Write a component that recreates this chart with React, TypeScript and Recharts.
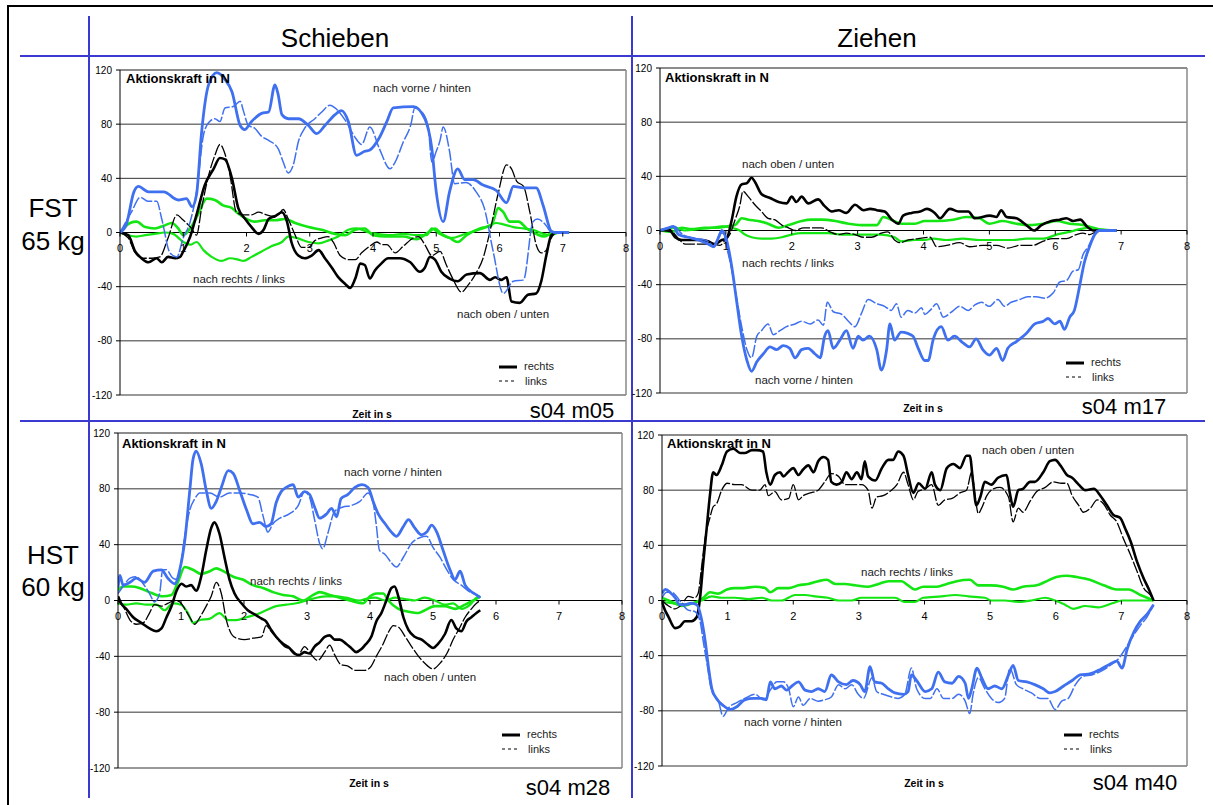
import { LineChart, Line, XAxis, YAxis, CartesianGrid, ReferenceLine } from 'recharts';

type Pt = [number, number];

const timeTicks = [0, 1, 2, 3, 4, 5, 6, 7, 8];
const forceTicks = [-120, -80, -40, 0, 40, 80, 120];

// FST 65 kg, Schieben (s04 m05)
const fstPushVorR: Pt[] = [[0,0],[0.1,6],[0.22,30],[0.29,34],[0.45,30],[0.69,30],[0.92,24],[1.05,25],[1.14,19],[1.21,28],[1.29,74],[1.4,109],[1.53,118],[1.66,113],[1.77,104],[1.9,79],[1.97,76],[2.08,82],[2.24,88],[2.35,89],[2.45,109],[2.5,102],[2.56,87],[2.66,84],[2.82,84],[2.98,79],[3.11,73],[3.24,79],[3.4,87],[3.5,90],[3.61,82],[3.74,57],[3.87,60],[3.95,61],[4.1,70],[4.22,82],[4.32,92],[4.64,93],[4.82,84],[4.93,62],[5.0,30],[5.11,8],[5.21,30],[5.34,47],[5.45,39],[5.58,39],[5.74,35],[5.95,31],[6.11,22],[6.22,34],[6.38,33],[6.58,33],[6.69,20],[6.82,1],[6.9,0],[7.1,0]];
const fstPushVorL: Pt[] = [[0,0],[0.18,15],[0.32,26],[0.45,23],[0.58,23],[0.66,10],[0.79,-15],[0.9,-18],[1.0,-4],[1.11,8],[1.21,30],[1.32,72],[1.4,81],[1.5,84],[1.58,82],[1.66,92],[1.79,93],[1.9,97],[1.95,90],[2.03,79],[2.13,77],[2.24,71],[2.35,68],[2.5,62],[2.58,52],[2.66,44],[2.74,50],[2.82,67],[2.92,77],[3.08,84],[3.19,89],[3.32,94],[3.4,92],[3.56,83],[3.72,70],[3.82,65],[3.95,78],[4.1,62],[4.27,47],[4.35,52],[4.48,67],[4.6,80],[4.66,92],[4.75,90],[4.87,79],[4.93,52],[5.0,60],[5.06,68],[5.11,78],[5.21,60],[5.29,36],[5.47,37],[5.63,30],[5.76,18],[5.9,-14],[6.06,-45],[6.22,-36],[6.38,-35],[6.53,8],[6.6,10],[6.74,5],[6.82,0],[7.1,0]];
const fstPushObenR: Pt[] = [[0,0],[0.13,-2],[0.24,-14],[0.34,-19],[0.45,-22],[0.58,-19],[0.66,-22],[0.76,-18],[0.87,-19],[0.95,-18],[1.0,-14],[1.11,-3],[1.21,13],[1.34,35],[1.48,47],[1.58,55],[1.66,54],[1.77,40],[1.87,18],[1.98,10],[2.08,4],[2.19,-1],[2.27,2],[2.35,10],[2.45,12],[2.56,15],[2.64,8],[2.71,-7],[2.82,-17],[2.92,-19],[3.03,-17],[3.14,-13],[3.24,-19],[3.35,-26],[3.45,-33],[3.56,-38],[3.64,-41],[3.72,-34],[3.8,-23],[3.87,-24],[3.95,-34],[4.03,-28],[4.13,-23],[4.24,-19],[4.42,-19],[4.59,-22],[4.74,-29],[4.82,-26],[4.9,-18],[4.98,-20],[5.08,-29],[5.21,-34],[5.34,-36],[5.48,-31],[5.69,-30],[5.85,-35],[5.93,-33],[6.03,-35],[6.11,-33],[6.19,-51],[6.32,-52],[6.45,-46],[6.58,-45],[6.66,-36],[6.74,-17],[6.82,-2],[6.9,0],[7.1,0]];
const fstPushObenL: Pt[] = [[0,0],[0.13,-4],[0.24,-15],[0.37,-19],[0.5,-19],[0.63,-18],[0.76,-4],[0.9,13],[0.98,10],[1.05,7],[1.13,3],[1.21,-2],[1.29,18],[1.4,42],[1.5,57],[1.58,65],[1.66,58],[1.74,42],[1.84,15],[1.95,13],[2.08,13],[2.19,15],[2.32,13],[2.42,12],[2.5,13],[2.58,17],[2.66,10],[2.77,-2],[2.87,-11],[2.98,-11],[3.08,-6],[3.19,-4],[3.29,-3],[3.37,-7],[3.48,-17],[3.61,-20],[3.72,-20],[3.82,-15],[3.95,-10],[4.06,-7],[4.14,-9],[4.22,-9],[4.35,-15],[4.48,-10],[4.64,-4],[4.72,-3],[4.82,-9],[4.93,-17],[5.06,-14],[5.16,-24],[5.26,-34],[5.4,-44],[5.5,-39],[5.63,-30],[5.74,-19],[5.85,1],[5.98,29],[6.11,50],[6.19,47],[6.27,38],[6.38,34],[6.48,15],[6.58,-9],[6.66,-15],[6.74,-13],[6.82,-4],[6.9,0],[7.1,0]];
const fstPushRechtsR: Pt[] = [[0,0],[0.16,7],[0.26,8],[0.4,4],[0.55,3],[0.69,5],[0.82,7],[0.92,3],[1.0,-2],[1.11,3],[1.24,14],[1.37,25],[1.5,24],[1.63,20],[1.77,18],[1.87,14],[2.0,10],[2.13,8],[2.29,9],[2.45,9],[2.61,10],[2.77,7],[2.98,4],[3.19,2],[3.4,-1],[3.56,-2],[3.72,2],[3.87,3],[4.0,-2],[4.2,-3],[4.48,-3],[4.69,-5],[4.87,0],[4.98,3],[5.08,-1],[5.21,-4],[5.34,-7],[5.48,-2],[5.69,3],[5.87,5],[5.98,18],[6.06,15],[6.16,8],[6.3,8],[6.43,3],[6.58,-1],[6.71,-3],[6.85,0],[7.1,0]];
const fstPushRechtsL: Pt[] = [[0,0],[0.13,-2],[0.26,-3],[0.4,-2],[0.55,-1],[0.71,0],[0.84,-1],[1.0,-7],[1.11,-9],[1.21,-7],[1.32,-13],[1.45,-18],[1.61,-21],[1.74,-19],[1.87,-20],[1.95,-21],[2.08,-18],[2.24,-14],[2.4,-10],[2.56,-7],[2.66,-3],[2.79,-4],[2.98,-7],[3.14,-8],[3.29,-6],[3.45,-3],[3.61,2],[3.74,3],[3.93,0],[4.06,-1],[4.27,-2],[4.48,-1],[4.69,-2],[4.85,-2],[4.93,3],[5.05,-1],[5.26,-4],[5.4,-2],[5.53,0],[5.74,3],[5.95,7],[6.06,6],[6.22,4],[6.38,3],[6.53,2],[6.69,-1],[6.82,-2],[6.95,0],[7.1,0]];

// FST 65 kg, Ziehen (s04 m17)
const fstPullObenR: Pt[] = [[0,0],[0.13,1],[0.23,-5],[0.33,-7],[0.48,-7],[0.63,-7],[0.73,-8],[0.83,-10],[0.94,-7],[1.01,-6],[1.09,8],[1.16,25],[1.24,34],[1.32,35],[1.39,39],[1.44,36],[1.54,27],[1.67,24],[1.8,21],[1.92,20],[2.0,25],[2.07,21],[2.15,25],[2.25,20],[2.4,23],[2.5,18],[2.61,14],[2.71,15],[2.83,13],[2.96,19],[3.09,15],[3.19,16],[3.29,15],[3.41,14],[3.52,8],[3.62,5],[3.69,11],[3.82,13],[3.95,14],[4.05,16],[4.17,13],[4.25,9],[4.4,16],[4.53,14],[4.68,14],[4.78,9],[5.01,11],[5.11,10],[5.18,15],[5.26,10],[5.41,9],[5.56,4],[5.68,0],[5.79,4],[5.94,7],[6.07,8],[6.17,9],[6.27,7],[6.38,8],[6.48,3],[6.58,0],[6.93,0]];
const fstPullObenL: Pt[] = [[0,0],[0.18,-1],[0.28,-6],[0.38,-10],[0.51,-10],[0.63,-10],[0.78,-10],[0.91,-11],[0.99,-7],[1.06,-3],[1.14,8],[1.21,18],[1.26,29],[1.34,25],[1.44,19],[1.54,14],[1.64,9],[1.74,8],[1.85,4],[1.95,2],[2.05,0],[2.18,2],[2.3,2],[2.45,2],[2.58,-1],[2.71,-3],[2.83,-2],[2.96,-3],[3.09,-5],[3.21,-5],[3.36,-2],[3.46,-1],[3.56,-7],[3.64,-9],[3.77,-7],[3.92,-6],[4.1,-5],[4.2,-12],[4.35,-11],[4.55,-9],[4.7,-12],[4.9,-11],[5.11,-11],[5.28,-13],[5.46,-11],[5.66,-11],[5.81,-8],[5.96,-6],[6.17,-6],[6.32,-3],[6.42,-2],[6.52,-3],[6.62,-1],[6.93,0]];
const fstPullVorR: Pt[] = [[0,0],[0.13,2],[0.2,3],[0.28,-3],[0.43,-5],[0.58,-7],[0.73,-10],[0.81,-12],[0.89,-5],[0.94,0],[1.01,-7],[1.09,-27],[1.16,-51],[1.24,-78],[1.32,-96],[1.39,-104],[1.47,-97],[1.57,-91],[1.67,-86],[1.77,-88],[1.87,-85],[1.97,-87],[2.05,-94],[2.15,-88],[2.25,-87],[2.35,-91],[2.43,-94],[2.5,-78],[2.55,-74],[2.63,-87],[2.73,-81],[2.83,-74],[2.93,-87],[3.01,-78],[3.08,-81],[3.18,-78],[3.29,-88],[3.36,-103],[3.44,-88],[3.49,-69],[3.56,-81],[3.66,-75],[3.76,-76],[3.84,-78],[3.92,-87],[4.02,-96],[4.07,-96],[4.15,-80],[4.27,-71],[4.37,-81],[4.47,-78],[4.6,-83],[4.7,-86],[4.8,-80],[4.9,-88],[5.0,-92],[5.11,-87],[5.2,-96],[5.28,-87],[5.41,-82],[5.56,-76],[5.69,-69],[5.82,-67],[5.89,-65],[5.99,-69],[6.07,-67],[6.14,-73],[6.22,-64],[6.29,-59],[6.37,-41],[6.44,-24],[6.52,-12],[6.6,-3],[6.67,0],[6.93,0]];
const fstPullVorL: Pt[] = [[0,0],[0.15,2],[0.23,3],[0.3,-1],[0.43,-5],[0.58,-6],[0.73,-8],[0.83,-12],[0.91,-2],[0.96,-2],[1.01,-12],[1.09,-29],[1.16,-49],[1.24,-71],[1.32,-88],[1.39,-94],[1.47,-78],[1.54,-74],[1.64,-69],[1.72,-77],[1.82,-74],[1.92,-71],[2.05,-69],[2.15,-67],[2.28,-69],[2.4,-66],[2.48,-70],[2.54,-53],[2.63,-60],[2.76,-62],[2.86,-67],[2.96,-71],[3.06,-61],[3.16,-51],[3.29,-54],[3.41,-56],[3.51,-59],[3.59,-54],[3.66,-64],[3.76,-59],[3.87,-61],[3.97,-57],[4.02,-62],[4.1,-59],[4.2,-54],[4.3,-64],[4.43,-60],[4.55,-56],[4.68,-59],[4.78,-55],[4.88,-53],[5.0,-56],[5.13,-51],[5.23,-56],[5.33,-53],[5.46,-51],[5.58,-49],[5.71,-49],[5.84,-50],[5.97,-46],[6.07,-38],[6.17,-37],[6.27,-30],[6.35,-29],[6.42,-18],[6.5,-12],[6.57,-5],[6.65,0],[6.93,0]];
const fstPullRechtsR: Pt[] = [[0,0],[0.18,-1],[0.33,2],[0.48,1],[0.68,2],[0.83,2],[1.01,3],[1.14,4],[1.24,9],[1.34,8],[1.49,7],[1.64,5],[1.8,2],[1.95,4],[2.15,7],[2.3,8],[2.45,8],[2.66,7],[2.86,5],[3.06,4],[3.29,4],[3.39,10],[3.51,8],[3.66,5],[3.87,5],[4.02,7],[4.2,7],[4.45,8],[4.65,10],[4.85,9],[5.0,5],[5.2,7],[5.41,5],[5.61,4],[5.82,5],[6.02,7],[6.22,5],[6.42,4],[6.58,2],[6.73,0],[6.93,0]];
const fstPullRechtsL: Pt[] = [[0,0],[0.23,2],[0.38,0],[0.58,1],[0.78,2],[0.94,3],[1.09,2],[1.21,0],[1.29,-3],[1.39,-5],[1.54,-6],[1.69,-6],[1.85,-5],[2.0,-3],[2.15,-2],[2.35,-2],[2.55,-2],[2.76,-3],[2.96,-3],[3.16,-3],[3.36,-3],[3.56,-5],[3.66,-8],[3.87,-7],[4.02,-7],[4.15,-6],[4.35,-7],[4.6,-6],[4.85,-7],[5.1,-7],[5.36,-7],[5.56,-6],[5.82,-6],[6.02,-3],[6.22,-1],[6.37,1],[6.52,2],[6.67,1],[6.93,0]];

// HST 60 kg, Schieben (s04 m28)
const hstPushVorR: Pt[] = [[0,9],[0.03,18],[0.08,11],[0.19,13],[0.29,16],[0.42,13],[0.56,21],[0.69,22],[0.79,16],[0.9,12],[0.98,22],[1.06,43],[1.14,79],[1.19,101],[1.24,107],[1.32,98],[1.4,79],[1.48,66],[1.56,71],[1.64,81],[1.75,93],[1.83,91],[1.93,79],[2.04,65],[2.14,55],[2.25,56],[2.35,53],[2.43,55],[2.51,70],[2.59,78],[2.67,81],[2.78,83],[2.86,74],[2.96,78],[3.04,76],[3.12,67],[3.2,59],[3.31,62],[3.39,66],[3.47,60],[3.54,73],[3.65,76],[3.76,81],[3.87,83],[3.97,81],[4.05,71],[4.13,62],[4.24,55],[4.34,49],[4.42,46],[4.53,53],[4.61,58],[4.71,52],[4.82,47],[4.9,49],[4.98,54],[5.06,49],[5.16,36],[5.27,22],[5.35,15],[5.43,21],[5.51,11],[5.59,7],[5.69,4],[5.75,2]];
const hstPushVorL: Pt[] = [[0,5],[0.08,10],[0.19,16],[0.29,17],[0.4,12],[0.5,5],[0.58,-1],[0.66,5],[0.71,22],[0.77,22],[0.87,16],[0.95,15],[1.0,27],[1.06,46],[1.14,65],[1.22,73],[1.3,77],[1.46,77],[1.61,74],[1.77,77],[1.93,77],[2.09,76],[2.22,74],[2.3,61],[2.38,49],[2.46,55],[2.57,59],[2.72,62],[2.86,68],[2.96,78],[3.04,74],[3.12,58],[3.2,41],[3.25,37],[3.33,48],[3.44,64],[3.57,67],[3.7,68],[3.84,71],[3.97,77],[4.05,70],[4.1,54],[4.15,36],[4.24,33],[4.34,27],[4.42,24],[4.53,31],[4.66,41],[4.79,45],[4.9,46],[5.0,38],[5.11,31],[5.22,22],[5.32,15],[5.45,11],[5.59,6],[5.69,4],[5.75,2]];
const hstPushObenR: Pt[] = [[0,3],[0.05,-2],[0.13,-6],[0.24,-12],[0.37,-16],[0.5,-20],[0.61,-22],[0.69,-20],[0.77,-12],[0.85,-4],[0.93,7],[1.01,12],[1.08,10],[1.16,11],[1.24,7],[1.32,17],[1.4,36],[1.48,52],[1.53,56],[1.61,48],[1.69,31],[1.77,15],[1.85,5],[1.96,-2],[2.06,-7],[2.17,-10],[2.28,-13],[2.35,-15],[2.43,-21],[2.51,-26],[2.62,-31],[2.72,-34],[2.8,-38],[2.88,-39],[2.96,-37],[3.04,-38],[3.12,-33],[3.2,-30],[3.28,-26],[3.36,-25],[3.44,-28],[3.52,-28],[3.62,-31],[3.7,-34],[3.78,-37],[3.86,-35],[3.92,-32],[4.02,-26],[4.1,-15],[4.18,-9],[4.26,0],[4.34,9],[4.39,10],[4.45,3],[4.53,-12],[4.61,-21],[4.71,-26],[4.82,-28],[4.93,-32],[5.0,-34],[5.08,-31],[5.19,-24],[5.29,-14],[5.37,-20],[5.45,-22],[5.53,-15],[5.61,-12],[5.69,-9],[5.75,-7]];
const hstPushObenL: Pt[] = [[0,0],[0.08,-4],[0.19,-14],[0.29,-17],[0.4,-16],[0.5,-9],[0.58,-3],[0.69,-4],[0.79,-2],[0.9,0],[0.98,-1],[1.06,-6],[1.14,-12],[1.22,-17],[1.3,-12],[1.4,-4],[1.48,3],[1.56,13],[1.64,5],[1.72,-14],[1.8,-24],[1.88,-27],[2.01,-28],[2.14,-27],[2.28,-26],[2.35,-18],[2.43,-22],[2.54,-28],[2.64,-33],[2.75,-35],[2.86,-39],[2.96,-33],[3.07,-39],[3.17,-43],[3.28,-37],[3.36,-32],[3.44,-39],[3.54,-46],[3.65,-47],[3.76,-50],[3.92,-50],[4.02,-47],[4.1,-40],[4.21,-31],[4.29,-23],[4.37,-18],[4.45,-19],[4.56,-26],[4.66,-33],[4.77,-40],[4.87,-45],[5.0,-49],[5.11,-45],[5.22,-38],[5.32,-28],[5.43,-19],[5.51,-12],[5.61,-6],[5.69,-2],[5.75,0]];
const hstPushRechtsR: Pt[] = [[0,7],[0.08,10],[0.21,10],[0.34,9],[0.5,6],[0.61,4],[0.71,3],[0.85,4],[0.95,13],[1.06,24],[1.19,22],[1.32,19],[1.46,21],[1.56,23],[1.67,21],[1.83,17],[1.98,15],[2.14,11],[2.3,9],[2.46,6],[2.62,4],[2.78,3],[2.94,0],[3.1,4],[3.2,6],[3.36,4],[3.52,2],[3.68,0],[3.89,-2],[4.0,3],[4.1,5],[4.21,5],[4.29,0],[4.45,-6],[4.61,-8],[4.77,-9],[4.87,-7],[5.03,-4],[5.19,-4],[5.35,-6],[5.51,-3],[5.64,0],[5.75,3]];
const hstPushRechtsL: Pt[] = [[0,-2],[0.13,-3],[0.29,-2],[0.45,-3],[0.61,-3],[0.74,-7],[0.87,-2],[1.0,-3],[1.11,-9],[1.19,-16],[1.3,-14],[1.46,-13],[1.61,-9],[1.75,-14],[1.88,-14],[2.04,-12],[2.2,-10],[2.35,-7],[2.51,-4],[2.67,-3],[2.83,-2],[2.99,0],[3.15,2],[3.31,3],[3.47,3],[3.62,2],[3.84,0],[3.92,1],[4.08,2],[4.24,0],[4.4,2],[4.56,1],[4.71,0],[4.87,2],[5.03,0],[5.19,-3],[5.32,-2],[5.45,-6],[5.59,-3],[5.69,2],[5.75,3]];

// HST 60 kg, Ziehen (s04 m40)
const hstPullObenR: Pt[] = [[0,-1],[0.02,-4],[0.1,-12],[0.2,-20],[0.27,-19],[0.35,-15],[0.45,-15],[0.53,-12],[0.58,2],[0.63,28],[0.68,52],[0.73,76],[0.78,93],[0.83,91],[0.91,98],[0.99,108],[1.09,110],[1.19,107],[1.26,107],[1.37,109],[1.44,109],[1.54,108],[1.59,93],[1.65,84],[1.72,91],[1.8,93],[1.85,90],[1.92,93],[2.0,96],[2.08,91],[2.15,95],[2.23,98],[2.31,93],[2.38,101],[2.46,104],[2.53,102],[2.58,86],[2.66,84],[2.74,86],[2.81,93],[2.89,88],[2.97,93],[3.04,88],[3.09,101],[3.14,90],[3.25,87],[3.35,96],[3.45,102],[3.52,102],[3.6,108],[3.68,105],[3.75,91],[3.83,78],[3.91,85],[4.01,81],[4.11,93],[4.16,84],[4.24,80],[4.34,96],[4.44,99],[4.54,96],[4.64,105],[4.69,105],[4.74,86],[4.79,69],[4.85,75],[4.92,86],[5.02,84],[5.12,89],[5.25,91],[5.3,78],[5.35,68],[5.43,80],[5.5,81],[5.61,86],[5.68,86],[5.81,93],[5.91,101],[5.99,102],[6.07,98],[6.17,91],[6.25,89],[6.35,84],[6.45,80],[6.58,81],[6.68,76],[6.78,69],[6.88,62],[6.98,60],[7.06,52],[7.14,43],[7.24,28],[7.34,16],[7.42,8],[7.49,0]];
const hstPullObenL: Pt[] = [[0,0],[0.1,-4],[0.2,-6],[0.3,-3],[0.4,3],[0.5,2],[0.55,5],[0.6,23],[0.65,43],[0.73,60],[0.78,68],[0.83,70],[0.91,80],[0.99,85],[1.11,84],[1.21,84],[1.37,80],[1.49,80],[1.57,84],[1.62,76],[1.72,79],[1.82,73],[1.93,74],[2.0,84],[2.08,73],[2.15,76],[2.26,78],[2.38,80],[2.48,86],[2.58,92],[2.69,90],[2.79,84],[2.92,84],[3.04,84],[3.14,80],[3.2,67],[3.27,75],[3.37,76],[3.47,79],[3.58,84],[3.68,93],[3.75,84],[3.83,73],[3.9,79],[4.01,81],[4.11,84],[4.21,69],[4.31,73],[4.42,74],[4.54,78],[4.64,80],[4.72,93],[4.77,76],[4.82,63],[4.87,67],[4.95,76],[5.05,81],[5.15,82],[5.28,75],[5.35,57],[5.43,67],[5.5,64],[5.61,72],[5.71,79],[5.84,82],[5.96,86],[6.09,85],[6.17,85],[6.25,76],[6.35,69],[6.42,64],[6.53,67],[6.63,73],[6.73,70],[6.83,62],[6.93,57],[7.03,45],[7.14,33],[7.24,21],[7.34,9],[7.44,4],[7.49,0]];
const hstPullVorR: Pt[] = [[0,5],[0.05,8],[0.12,6],[0.2,2],[0.27,-3],[0.35,-3],[0.45,-2],[0.53,-3],[0.6,-13],[0.66,-30],[0.71,-49],[0.76,-64],[0.83,-71],[0.93,-76],[1.04,-79],[1.14,-77],[1.26,-72],[1.39,-71],[1.52,-71],[1.59,-72],[1.65,-59],[1.72,-64],[1.82,-62],[1.9,-65],[1.98,-62],[2.08,-59],[2.18,-65],[2.28,-66],[2.38,-64],[2.48,-66],[2.58,-54],[2.69,-59],[2.81,-61],[2.91,-58],[3.02,-61],[3.09,-66],[3.17,-48],[3.24,-59],[3.35,-60],[3.45,-64],[3.55,-67],[3.68,-68],[3.75,-66],[3.8,-54],[3.88,-58],[4.01,-66],[4.11,-64],[4.21,-52],[4.31,-59],[4.42,-60],[4.52,-55],[4.62,-60],[4.67,-71],[4.72,-64],[4.8,-49],[4.87,-56],[4.97,-64],[5.07,-62],[5.18,-64],[5.28,-54],[5.35,-47],[5.43,-58],[5.56,-59],[5.68,-61],[5.81,-64],[5.91,-67],[5.99,-66],[6.12,-62],[6.25,-58],[6.37,-54],[6.53,-53],[6.68,-50],[6.83,-46],[6.93,-44],[7.01,-49],[7.09,-35],[7.19,-23],[7.29,-15],[7.39,-10],[7.49,-3]];
const hstPullVorL: Pt[] = [[0,2],[0.07,6],[0.15,6],[0.22,3],[0.3,-2],[0.4,-7],[0.5,-8],[0.58,-15],[0.63,-30],[0.68,-44],[0.76,-66],[0.86,-73],[0.93,-84],[1.01,-78],[1.14,-74],[1.26,-71],[1.42,-68],[1.54,-72],[1.65,-65],[1.75,-59],[1.85,-59],[1.93,-64],[2.0,-77],[2.08,-70],[2.15,-76],[2.26,-71],[2.38,-73],[2.48,-72],[2.58,-70],[2.69,-61],[2.79,-64],[2.89,-61],[2.99,-68],[3.07,-71],[3.2,-56],[3.27,-66],[3.37,-68],[3.5,-70],[3.6,-71],[3.7,-68],[3.8,-49],[3.88,-64],[4.01,-71],[4.09,-71],[4.19,-64],[4.29,-71],[4.42,-71],[4.52,-68],[4.62,-73],[4.69,-82],[4.74,-68],[4.82,-56],[4.92,-64],[5.02,-71],[5.12,-74],[5.22,-71],[5.3,-49],[5.4,-61],[5.5,-64],[5.63,-67],[5.76,-71],[5.88,-71],[5.99,-79],[6.09,-73],[6.19,-71],[6.3,-61],[6.42,-55],[6.55,-54],[6.7,-51],[6.83,-47],[6.96,-42],[7.06,-35],[7.19,-25],[7.29,-18],[7.39,-12],[7.49,-3]];
const hstPullRechtsR: Pt[] = [[0,2],[0.1,0],[0.2,-2],[0.3,-4],[0.4,-3],[0.53,-1],[0.63,2],[0.73,6],[0.86,5],[0.99,8],[1.11,9],[1.24,9],[1.42,10],[1.57,9],[1.65,6],[1.77,9],[1.93,9],[2.08,11],[2.23,12],[2.38,14],[2.51,15],[2.64,12],[2.79,12],[2.94,11],[3.14,10],[3.3,12],[3.45,14],[3.65,14],[3.75,11],[3.85,8],[3.98,10],[4.19,10],[4.34,12],[4.49,14],[4.69,15],[4.82,11],[5.0,11],[5.2,10],[5.35,8],[5.5,10],[5.71,11],[5.86,14],[6.01,17],[6.17,18],[6.32,17],[6.52,15],[6.73,11],[6.93,8],[7.11,8],[7.29,4],[7.49,0]];
const hstPullRechtsL: Pt[] = [[0,-1],[0.15,-2],[0.3,-3],[0.45,-2],[0.6,0],[0.76,3],[0.91,2],[1.11,2],[1.32,1],[1.52,2],[1.67,0],[1.82,0],[2.03,4],[2.18,4],[2.33,3],[2.53,2],[2.69,0],[2.89,0],[3.04,2],[3.3,2],[3.55,2],[3.7,-1],[3.85,-1],[3.98,2],[4.26,3],[4.47,4],[4.67,3],[4.92,2],[5.02,0],[5.22,0],[5.43,-1],[5.63,0],[5.84,2],[5.99,0],[6.14,-3],[6.27,-6],[6.45,-4],[6.65,-5],[6.86,-2],[7.01,0],[7.49,0]];

const BLUE = '#3f70f0';
const GREEN = '#14e614';
const FRAME = '#3a3ad0';
const FONT = "'Liberation Sans', Arial, sans-serif";

const ML = 40, MT = 10, MR = 10, MB = 40;

const toRows = (pts: Pt[]) => pts.map(([t, v]) => ({ t, v }));

interface Plot { left: number; top: number; w: number; h: number }
interface Series { pts: Pt[]; color: string; width: number; dash?: string }

function makeSeries(vorR: Pt[], vorL: Pt[], obenR: Pt[], obenL: Pt[], reR: Pt[], reL: Pt[]): Series[] {
  return [
    { pts: reL, color: GREEN, width: 2.2 },
    { pts: reR, color: GREEN, width: 2.6 },
    { pts: obenL, color: '#000', width: 1.3, dash: '12 2' },
    { pts: obenR, color: '#000', width: 2.6 },
    { pts: vorL, color: BLUE, width: 1.5, dash: '12 2' },
    { pts: vorR, color: BLUE, width: 2.8 },
  ];
}

function Panel({ plot, series }: { plot: Plot; series: Series[] }) {
  const zeroY = MT + plot.h / 2;
  const xTick = (p: any) => (
    <g>
      <line x1={p.x} x2={p.x} y1={zeroY} y2={zeroY + 4} stroke="#000" />
      <text x={p.x} y={zeroY + 19} textAnchor="middle" fontSize={11} fontFamily={FONT} fill="#000">
        {p.payload.value}
      </text>
    </g>
  );
  return (
    <div style={{ position: 'absolute', left: plot.left - ML, top: plot.top - MT }}>
      <LineChart width={plot.w + ML + MR} height={plot.h + MT + MB}
        margin={{ top: MT, right: MR, left: 0, bottom: 0 }}>
        <CartesianGrid vertical={false} stroke="#333" />
        <XAxis dataKey="t" type="number" domain={[0, 8]} ticks={timeTicks} interval={0}
          axisLine={false} tickLine={false} tick={xTick} height={MB} allowDataOverflow />
        <YAxis type="number" domain={[-120, 120]} ticks={forceTicks} interval={0} width={ML}
          tickSize={4} tickMargin={4} axisLine={{ stroke: '#000' }} tickLine={{ stroke: '#000' }}
          tick={{ fontSize: 10, fill: '#000', fontFamily: FONT }} />
        <ReferenceLine y={120} stroke="#888" strokeWidth={1.5} />
        <ReferenceLine x={8} stroke="#888" strokeWidth={1.5} />
        <ReferenceLine y={0} stroke="#000" />
        {series.map((s, i) => (
          <Line key={i} data={toRows(s.pts)} dataKey="v" type="monotone" stroke={s.color}
            strokeWidth={s.width} strokeDasharray={s.dash} dot={false} isAnimationActive={false} />
        ))}
      </LineChart>
    </div>
  );
}

function Txt({ x, y, size, bold, center, color, children }: any) {
  return (
    <div style={{
      position: 'absolute', left: x, top: y, fontSize: size, fontWeight: bold ? 'bold' : 'normal',
      lineHeight: 1, whiteSpace: 'nowrap', color: color || '#000',
      transform: center ? 'translate(-50%, -50%)' : 'translateY(-50%)',
    }}>{children}</div>
  );
}

function Legend({ x, y }: { x: number; y: number }) {
  return (
    <>
      <svg style={{ position: 'absolute', left: x, top: y - 8 }} width={20} height={24}>
        <line x1={0} x2={18} y1={3} y2={3} stroke="#000" strokeWidth={3} />
        <line x1={0} x2={18} y1={17} y2={17} stroke="#000" strokeWidth={1} strokeDasharray="3 3" />
      </svg>
      <Txt x={x + 25} y={y - 6} size={11} color="#222">rechts</Txt>
      <Txt x={x + 26} y={y + 9} size={11} color="#222">links</Txt>
    </>
  );
}

const panels = [
  { plot: { left: 120, top: 70, w: 506, h: 325 }, series: makeSeries(fstPushVorR, fstPushVorL, fstPushObenR, fstPushObenL, fstPushRechtsR, fstPushRechtsL) },
  { plot: { left: 660, top: 68, w: 527, h: 325 }, series: makeSeries(fstPullVorR, fstPullVorL, fstPullObenR, fstPullObenL, fstPullRechtsR, fstPullRechtsL) },
  { plot: { left: 118, top: 433, w: 504, h: 335 }, series: makeSeries(hstPushVorR, hstPushVorL, hstPushObenR, hstPushObenL, hstPushRechtsR, hstPushRechtsL) },
  { plot: { left: 662, top: 435, w: 525, h: 331 }, series: makeSeries(hstPullVorR, hstPullVorL, hstPullObenR, hstPullObenL, hstPullRechtsR, hstPullRechtsL) },
];

export default function App() {
  const hLine = (y: number) => (
    <div style={{ position: 'absolute', left: 20, top: y - 1, width: 1185, height: 2, background: FRAME }} />
  );
  const vLine = (x: number) => (
    <div style={{ position: 'absolute', left: x - 1, top: 16, width: 2, height: 782, background: FRAME }} />
  );
  return (
    <div style={{ position: 'fixed', left: 0, top: 0, width: 1213, height: 805, background: '#fff', overflow: 'hidden', fontFamily: FONT }}>
      <div style={{ position: 'absolute', left: 7, top: 5, width: 1300, height: 900, border: '2px solid #000' }} />
      {hLine(56)}
      {hLine(421)}
      {vLine(89)}
      {vLine(632)}

      <Txt x={335} y={38} size={26} center>Schieben</Txt>
      <Txt x={877} y={38} size={26} center>Ziehen</Txt>
      <Txt x={53} y={208} size={26} center>FST</Txt>
      <Txt x={53} y={241} size={26} center>65 kg</Txt>
      <Txt x={53} y={555} size={26} center>HST</Txt>
      <Txt x={53} y={587} size={26} center>60 kg</Txt>

      {panels.map((p, i) => <Panel key={i} plot={p.plot} series={p.series} />)}

      {/* Panel 1 */}
      <Txt x={126} y={78} size={13} bold>Aktionskraft in N</Txt>
      <Txt x={373} y={89} size={11.5} color="#222">nach vorne / hinten</Txt>
      <Txt x={193} y={280} size={11.5} color="#222">nach rechts / links</Txt>
      <Txt x={457} y={315} size={11.5} color="#222">nach oben / unten</Txt>
      <Legend x={499} y={372} />
      <Txt x={372} y={414} size={10.5} bold center>Zeit in s</Txt>
      <Txt x={572} y={411} size={22} center>s04 m05</Txt>

      {/* Panel 2 */}
      <Txt x={665} y={77} size={13} bold>Aktionskraft in N</Txt>
      <Txt x={742} y={165} size={11.5} color="#222">nach oben / unten</Txt>
      <Txt x={742} y={264} size={11.5} color="#222">nach rechts / links</Txt>
      <Txt x={755} y={381} size={11.5} color="#222">nach vorne / hinten</Txt>
      <Legend x={1066} y={368} />
      <Txt x={923} y={408} size={10.5} bold center>Zeit in s</Txt>
      <Txt x={1124} y={407} size={22} center>s04 m17</Txt>

      {/* Panel 3 */}
      <Txt x={122} y={443} size={13} bold>Aktionskraft in N</Txt>
      <Txt x={344} y={473} size={11.5} color="#222">nach vorne / hinten</Txt>
      <Txt x={250} y={582} size={11.5} color="#222">nach rechts / links</Txt>
      <Txt x={384} y={678} size={11.5} color="#222">nach oben / unten</Txt>
      <Legend x={502} y={740} />
      <Txt x={369} y={783} size={10.5} bold center>Zeit in s</Txt>
      <Txt x={568} y={788} size={22} center>s04 m28</Txt>

      {/* Panel 4 */}
      <Txt x={667} y={443} size={13} bold>Aktionskraft in N</Txt>
      <Txt x={982} y={451} size={11.5} color="#222">nach oben / unten</Txt>
      <Txt x={861} y={573} size={11.5} color="#222">nach rechts / links</Txt>
      <Txt x={744} y={723} size={11.5} color="#222">nach vorne / hinten</Txt>
      <Legend x={1064} y={740} />
      <Txt x={924} y={783} size={10.5} bold center>Zeit in s</Txt>
      <Txt x={1135} y={783} size={22} center>s04 m40</Txt>
    </div>
  );
}
